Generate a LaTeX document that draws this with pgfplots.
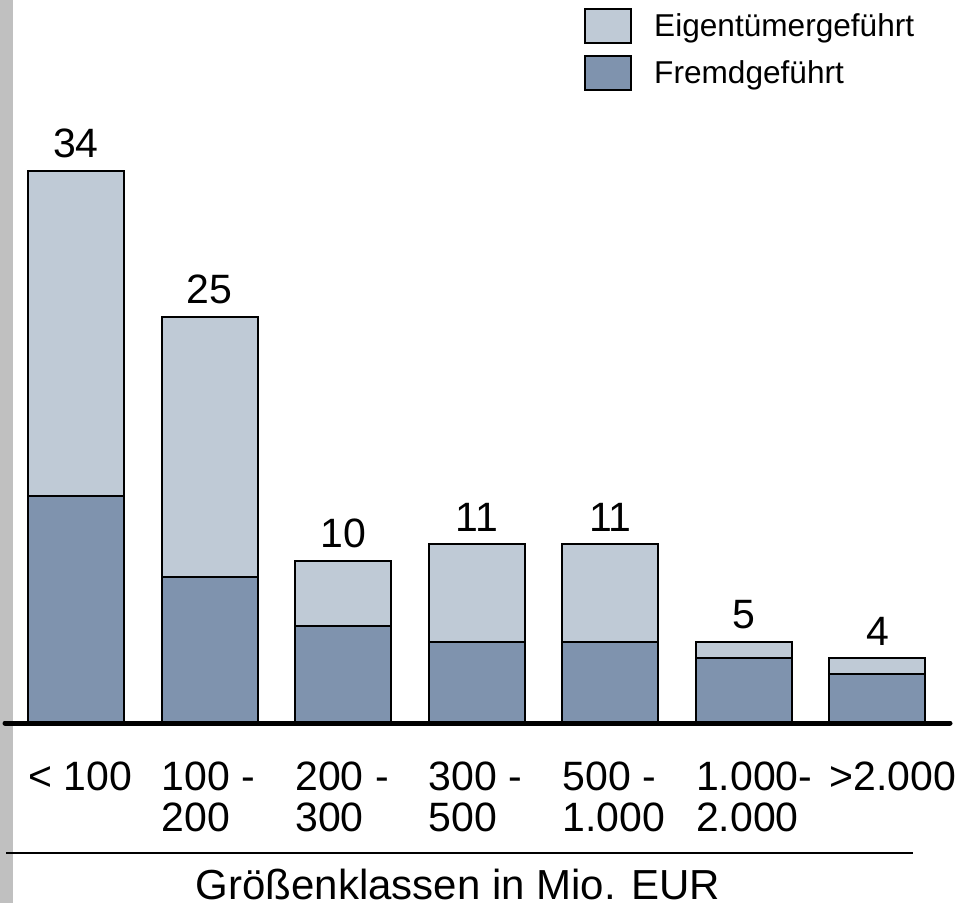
\documentclass[border=0pt]{standalone}
\usepackage{fontspec}
\setmainfont{Liberation Sans}
\usepackage{pgfplots}
\usepackage{pgfplotstable}
\pgfplotsset{compat=1.18}
\definecolor{lightbar}{RGB}{191,202,214}
\definecolor{darkbar}{RGB}{127,147,174}
\definecolor{strip}{RGB}{192,192,192}
\pgfplotstableread{
x fremd eigen top total
0 14 20 0.001 34
1 9 16 0.001 25
2 6 4 0.001 10
3 5 6 0.001 11
4 5 6 0.001 11
5 4 1 0.001 5
6 3 1 0.001 4
}\datatable
\begin{document}
\begin{tikzpicture}
\path[use as bounding box] (0pt,0pt) rectangle (965pt,903pt);
\fill[strip] (0pt,0pt) rectangle (13pt,903pt);
\begin{axis}[
  at={(5pt,180pt)}, anchor=south west,
  scale only axis, width=945pt, height=649.6pt,
  xmin=-0.5315, xmax=6.543, ymin=0, ymax=40,
  ybar stacked, bar width=96pt,
  axis x line=bottom, axis y line=none,
  x axis line style={-, line width=5pt, line cap=round},
  axis on top, clip=false,
  xtick=data,
  xticklabels={{< 100},{100 -\\200},{200 -\\300},{300 -\\500},{500 -\\1.000},{1.000-\\2.000},{>2.000}},
  major tick length=0pt, ytick=\empty,
  xticklabel style={anchor=north west, xshift=-48pt, yshift=-38.6pt, align=left, inner sep=0pt, font=\fontsize{41pt}{41pt}\selectfont},
  /pgf/number format/assume math mode=true,
  every node near coord/.append style={font=\fontsize{41pt}{41pt}\selectfont, anchor=base, yshift=13pt, inner sep=0pt},
  reverse legend,
  legend cell align=left,
  legend style={at={(axis description cs:0.6127,1.1007)}, anchor=north west, draw=none, fill=none, inner sep=0pt, row sep=11pt, font=\fontsize{31.6pt}{31.6pt}\selectfont, nodes={inner sep=0pt}, /tikz/every odd column/.append style={column sep=22pt}, /tikz/every even column/.append style={nodes={yshift=11pt}}},
]
\addplot[fill=darkbar, draw=black, line width=2pt,
  legend image code/.code={\draw[fill=darkbar, draw=black, line width=2pt] (0pt,-6pt) rectangle (46pt,28pt);}]
  table[x=x, y=fremd] {\datatable};
\addlegendentry{Fremdgeführt}
\addplot[fill=lightbar, draw=black, line width=2pt,
  legend image code/.code={\draw[fill=lightbar, draw=black, line width=2pt] (0pt,-6pt) rectangle (46pt,28pt);}]
  table[x=x, y=eigen] {\datatable};
\addlegendentry{Eigentümergeführt}
\addplot[draw=none, fill=none, forget plot,
  nodes near coords, point meta=explicit]
  table[x=x, y=top, meta=total] {\datatable};
\end{axis}
\draw[line width=2pt] (6pt,50pt) -- (913pt,50pt);
\node[font=\fontsize{42pt}{42pt}\selectfont, anchor=base, inner sep=0pt] at (458pt,4pt) {Größenklassen in Mio. EUR};
\end{tikzpicture}
\end{document}
